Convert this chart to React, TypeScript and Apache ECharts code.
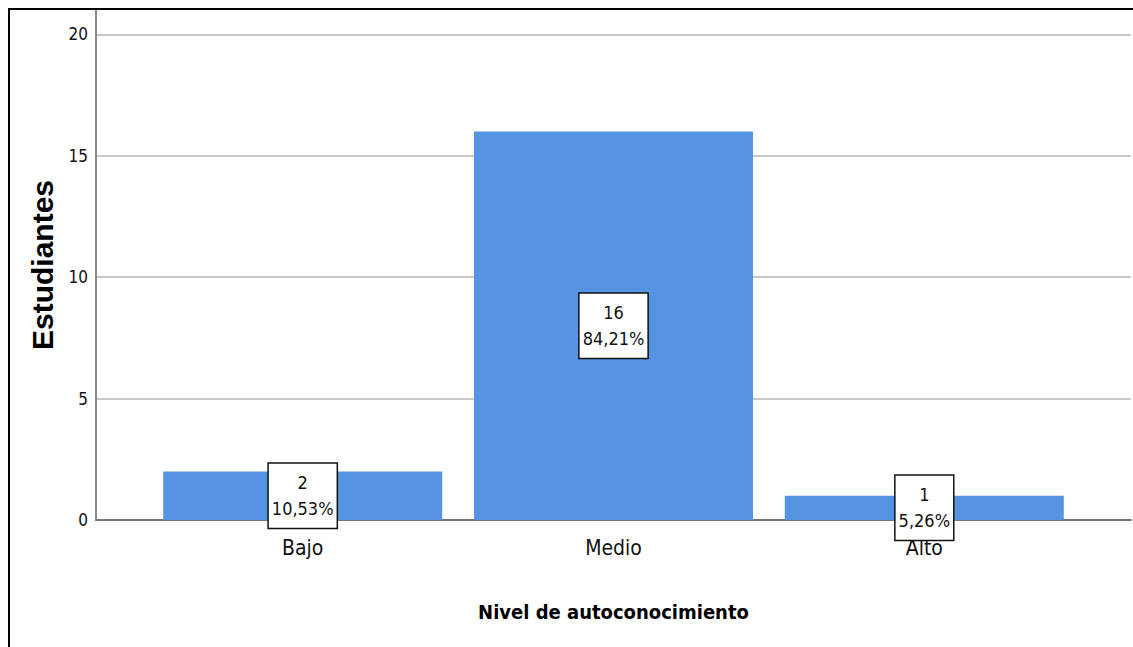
import React, { useEffect, useRef } from "react";
import * as echarts from "echarts";

const categories = ["Bajo", "Medio", "Alto"];
const positions = [1, 2, 3];
const counts = [2, 16, 1];
const percents = ["10,53%", "84,21%", "5,26%"];
const yTicks = [0, 5, 10, 15, 20];

const NARROW = '"Liberation Sans Narrow", "Arial Narrow", "DejaVu Sans Condensed", sans-serif';
const WIDE = '"Liberation Sans", Arial, sans-serif';

export default function App() {
  const ref = useRef<HTMLDivElement>(null);
  useEffect(() => {
    if (!ref.current) return;
    const chart = echarts.init(ref.current, null, { renderer: "svg" });
    chart.setOption({
      animation: false,
      grid: { left: 86, right: 2, top: 0, bottom: 127, containLabel: false },
      xAxis: {
        type: "value",
        min: 0.335,
        max: 3.665,
        name: "Nivel de autoconocimiento",
        nameLocation: "middle",
        nameGap: 82,
        nameTextStyle: { fontFamily: NARROW, fontWeight: "bold", fontSize: 20, color: "#000" },
        axisLine: { show: true, onZero: false, lineStyle: { color: "#777", width: 2 } },
        axisTick: { show: false, customValues: positions },
        splitLine: { show: false },
        axisLabel: {
          customValues: positions,
          formatter: (v: number) => categories[Math.round(v) - 1] ?? "",
          fontFamily: NARROW,
          fontSize: 21,
          color: "#111",
          margin: 17,
        },
      },
      yAxis: {
        type: "value",
        min: 0,
        max: 21,
        name: "Estudiantes",
        nameLocation: "middle",
        nameGap: 39,
        nameTextStyle: { fontFamily: WIDE, fontWeight: "bold", fontSize: 30, color: "#000" },
        axisLine: { show: true, lineStyle: { color: "#888", width: 2 } },
        axisTick: { show: false, customValues: yTicks },
        axisLabel: {
          customValues: yTicks,
          fontFamily: NARROW,
          fontSize: 17,
          color: "#111",
          margin: 8,
        },
        splitLine: { show: true, lineStyle: { color: "#c8c8c8", width: 2 } },
      },
      series: [
        {
          type: "bar",
          barWidth: 279,
          data: positions.map((p, i) => [p, counts[i]]),
          itemStyle: { color: "#5594e3" },
          label: {
            show: true,
            position: "inside",
            formatter: (p: any) => `${counts[p.dataIndex]}\n${percents[p.dataIndex]}`,
            fontFamily: NARROW,
            fontSize: 18,
            lineHeight: 26,
            color: "#111",
            backgroundColor: "#fff",
            borderColor: "#111",
            borderWidth: 1.5,
            padding: [6, 3],
            align: "center",
          },
        },
      ],
    });
    return () => chart.dispose();
  }, []);
  return (
    <div
      style={{
        position: "fixed",
        left: 8,
        top: 8,
        width: 1125,
        height: 639,
        borderLeft: "2px solid #000",
        borderTop: "2px solid #000",
        boxSizing: "border-box",
        background: "#fff",
      }}
    >
      <div ref={ref} style={{ width: 1123, height: 637 }} />
    </div>
  );
}
